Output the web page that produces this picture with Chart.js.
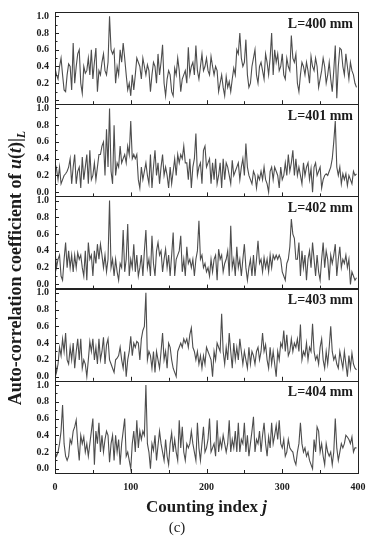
<!DOCTYPE html>
<html>
<head>
<meta charset="utf-8">
<script src="https://cdn.jsdelivr.net/npm/chart.js@4/dist/chart.umd.min.js"></script>
<style>
  html, body { margin: 0; padding: 0; background: #fff; }
  #wrap { position: relative; width: 377px; height: 550px; }
</style>
</head>
<body>
<div id="wrap"><canvas id="acfChart" width="377" height="550"></canvas></div>
<script>
// counting index step between stored values
const STEP = 2;
const panelLabels = ['L=400 mm', 'L=401 mm', 'L=402 mm', 'L=403 mm', 'L=404 mm'];
const xTicks = [0, 100, 200, 300, 400];
const yTicks = [0.0, 0.2, 0.4, 0.6, 0.8, 1.0];

// auto-correlation values, j = 0, 2, 4 ... 398
const acf400 = [
  0.38, 0.30, 0.25, 0.40, 0.50, 0.30, 0.12, 0.10, 0.30, 0.43,
  0.40, 0.12, 0.68, 0.20, 0.40, 0.55, 0.60, 0.20, 0.08, 0.40,
  0.32, 0.35, 0.50, 0.30, 0.60, 0.25, 0.45, 0.62, 0.10, 0.35,
  0.30, 0.45, 0.55, 0.35, 0.30, 0.45, 1.00, 0.60, 0.55, 0.60,
  0.20, 0.40, 0.30, 0.60, 0.45, 0.68, 0.50, 0.30, 0.12, 0.20,
  0.05, 0.30, 0.12, 0.30, 0.50, 0.45, 0.40, 0.25, 0.50, 0.40,
  0.30, 0.42, 0.35, 0.10, 0.30, 0.45, 0.40, 0.20, 0.55, 0.30,
  0.45, 0.66, 0.20, 0.05, 0.25, 0.35, 0.30, 0.10, 0.05, 0.38,
  0.30, 0.50, 0.35, 0.10, 0.25, 0.30, 0.35, 0.20, 0.63, 0.30,
  0.40, 0.45, 0.30, 0.65, 0.35, 0.25, 0.40, 0.55, 0.35, 0.40,
  0.50, 0.35, 0.30, 0.52, 0.40, 0.30, 0.40, 0.35, 0.10, 0.20,
  0.30, 0.15, 0.05, 0.28, 0.15, 0.22, 0.10, 0.25, 0.38, 0.30,
  0.60, 0.55, 0.80, 0.50, 0.40, 0.45, 0.72, 0.30, 0.15, 0.20,
  0.40, 0.50, 0.60, 0.30, 0.20, 0.40, 0.45, 0.35, 0.25, 0.55,
  0.45, 0.30, 0.50, 0.80, 0.30, 0.60, 0.45, 0.55, 0.35, 0.40,
  0.55, 0.30, 0.25, 0.50, 0.40, 0.35, 0.77, 0.50, 0.45, 0.55,
  0.20, 0.10, 0.30, 0.45, 0.40, 0.30, 0.45, 0.35, 0.20, 0.52,
  0.40, 0.35, 0.50, 0.40, 0.15, 0.25, 0.35, 0.50, 0.40, 0.20,
  0.30, 0.45, 0.25, 0.10, 0.35, 0.65, 0.02, 0.40, 0.62, 0.60,
  0.40, 0.30, 0.55, 0.40, 0.25, 0.45, 0.35, 0.30, 0.20, 0.15
];
const acf401 = [
  0.35, 0.28, 0.15, 0.30, 0.10, 0.15, 0.20, 0.22, 0.25, 0.30,
  0.40, 0.10, 0.30, 0.45, 0.10, 0.25, 0.30, 0.05, 0.42, 0.15,
  0.30, 0.45, 0.10, 0.50, 0.15, 0.20, 0.35, 0.15, 0.30, 0.45,
  0.45, 0.55, 0.60, 0.20, 0.75, 0.30, 1.00, 0.25, 0.10, 0.80,
  0.20, 0.35, 0.30, 0.55, 0.35, 0.40, 0.45, 0.35, 0.55, 0.45,
  0.85, 0.40, 0.45, 0.40, 0.45, 0.15, 0.05, 0.30, 0.15, 0.25,
  0.35, 0.20, 0.10, 0.45, 0.05, 0.30, 0.50, 0.20, 0.35, 0.10,
  0.30, 0.45, 0.20, 0.30, 0.20, 0.05, 0.30, 0.10, 0.25, 0.40,
  0.20, 0.45, 0.35, 0.45, 0.40, 0.55, 0.35, 0.35, 0.15, 0.40,
  0.05, 0.30, 0.40, 0.70, 0.20, 0.30, 0.35, 0.10, 0.50, 0.55,
  0.30, 0.35, 0.40, 0.10, 0.35, 0.15, 0.40, 0.10, 0.20, 0.35,
  0.05, 0.40, 0.15, 0.35, 0.30, 0.20, 0.10, 0.38, 0.20, 0.25,
  0.30, 0.35, 0.15, 0.30, 0.40, 0.20, 0.58, 0.30, 0.20, 0.15,
  0.10, 0.25, 0.20, 0.05, 0.20, 0.15, 0.25, 0.15, 0.30, 0.15,
  0.10, 0.00, 0.25, 0.30, 0.15, 0.30, 0.25, 0.20, 0.05, 0.30,
  0.15, 0.20, 0.35, 0.20, 0.45, 0.25, 0.35, 0.50, 0.20, 0.40,
  0.20, 0.30, 0.20, 0.10, 0.35, 0.20, 0.30, 0.35, 0.15, 0.28,
  0.00, 0.30, 0.35, 0.20, 0.25, 0.30, 0.05, 0.15, 0.20, 0.22,
  0.20, 0.25, 0.30, 0.40, 0.60, 0.85, 0.30, 0.20, 0.30, 0.10,
  0.22, 0.15, 0.22, 0.08, 0.20, 0.15, 0.10, 0.25, 0.20, 0.22
];
const acf402 = [
  0.40, 0.20, 0.30, 0.35, 0.10, 0.05, 0.30, 0.50, 0.20, 0.40,
  0.20, 0.35, 0.15, 0.35, 0.20, 0.38, 0.30, 0.35, 0.20, 0.10,
  0.40, 0.05, 0.50, 0.30, 0.35, 0.10, 0.40, 0.25, 0.48, 0.30,
  0.48, 0.35, 0.20, 0.35, 0.15, 0.30, 1.00, 0.20, 0.30, 0.10,
  0.30, 0.15, 0.05, 0.25, 0.20, 0.65, 0.15, 0.30, 0.72, 0.10,
  0.30, 0.20, 0.48, 0.15, 0.35, 0.10, 0.20, 0.35, 0.10, 0.40,
  0.65, 0.20, 0.30, 0.10, 0.58, 0.25, 0.10, 0.40, 0.50, 0.35,
  0.40, 0.15, 0.30, 0.42, 0.20, 0.35, 0.10, 0.35, 0.62, 0.10,
  0.30, 0.35, 0.40, 0.58, 0.15, 0.30, 0.10, 0.45, 0.25, 0.30,
  0.20, 0.30, 0.10, 0.30, 0.40, 0.76, 0.30, 0.35, 0.20, 0.25,
  0.15, 0.20, 0.10, 0.30, 0.15, 0.30, 0.35, 0.05, 0.42, 0.30,
  0.35, 0.15, 0.25, 0.30, 0.40, 0.10, 0.70, 0.20, 0.30, 0.10,
  0.45, 0.20, 0.30, 0.10, 0.30, 0.48, 0.20, 0.05, 0.20, 0.30,
  0.10, 0.35, 0.10, 0.30, 0.52, 0.25, 0.30, 0.15, 0.32, 0.20,
  0.30, 0.15, 0.35, 0.20, 0.35, 0.30, 0.35, 0.30, 0.35, 0.30,
  0.15, 0.10, 0.05, 0.25, 0.30, 0.45, 0.78, 0.60, 0.55, 0.30,
  0.30, 0.50, 0.10, 0.40, 0.20, 0.35, 0.05, 0.30, 0.40, 0.20,
  0.50, 0.30, 0.10, 0.35, 0.15, 0.05, 0.30, 0.50, 0.20, 0.40,
  0.30, 0.05, 0.35, 0.25, 0.35, 0.48, 0.10, 0.30, 0.45, 0.20,
  0.30, 0.25, 0.35, 0.20, 0.30, 0.00, 0.15, 0.10, 0.05, 0.08
];
const acf403 = [
  0.20, 0.05, 0.15, 0.35, 0.25, 0.45, 0.30, 0.52, 0.20, 0.15,
  0.35, 0.20, 0.40, 0.10, 0.30, 0.45, 0.20, 0.45, 0.10, 0.20,
  0.15, 0.00, 0.20, 0.42, 0.30, 0.45, 0.20, 0.35, 0.15, 0.45,
  0.20, 0.30, 0.47, 0.15, 0.38, 0.45, 0.20, 0.15, 0.10, 0.05,
  0.20, 0.22, 0.25, 0.35, 0.20, 0.10, 0.30, 0.00, 0.20, 0.30,
  0.48, 0.25, 0.40, 0.35, 0.42, 0.40, 0.20, 0.45, 0.55, 0.60,
  1.00, 0.20, 0.30, 0.25, 0.10, 0.30, 0.05, 0.30, 0.20, 0.10,
  0.30, 0.52, 0.20, 0.30, 0.10, 0.40, 0.35, 0.20, 0.10, 0.05,
  0.00, 0.30, 0.35, 0.40, 0.35, 0.45, 0.40, 0.45, 0.35, 0.50,
  0.58, 0.35, 0.30, 0.20, 0.30, 0.15, 0.25, 0.10, 0.25, 0.15,
  0.35, 0.30, 0.25, 0.20, 0.00, 0.30, 0.20, 0.40, 0.35, 0.30,
  0.75, 0.30, 0.15, 0.35, 0.20, 0.52, 0.30, 0.10, 0.40, 0.20,
  0.35, 0.20, 0.45, 0.30, 0.15, 0.30, 0.20, 0.10, 0.35, 0.15,
  0.30, 0.25, 0.15, 0.30, 0.35, 0.20, 0.30, 0.52, 0.30, 0.38,
  0.20, 0.10, 0.35, 0.15, 0.30, 0.15, 0.00, 0.30, 0.20, 0.40,
  0.35, 0.55, 0.30, 0.50, 0.25, 0.30, 0.45, 0.30, 0.40, 0.35,
  0.45, 0.30, 0.62, 0.20, 0.30, 0.25, 0.40, 0.20, 0.35, 0.30,
  0.63, 0.30, 0.20, 0.25, 0.15, 0.35, 0.45, 0.20, 0.10, 0.30,
  0.15, 0.35, 0.60, 0.30, 0.20, 0.25, 0.15, 0.10, 0.30, 0.20,
  0.10, 0.30, 0.15, 0.00, 0.25, 0.10, 0.28, 0.15, 0.10, 0.08
];
const acf404 = [
  0.20, 0.15, 0.20, 0.30, 0.45, 0.76, 0.30, 0.15, 0.10, 0.15,
  0.35, 0.30, 0.45, 0.50, 0.58, 0.30, 0.10, 0.40, 0.30, 0.38,
  0.20, 0.30, 0.15, 0.30, 0.45, 0.60, 0.05, 0.45, 0.30, 0.55,
  0.20, 0.40, 0.20, 0.35, 0.45, 0.40, 0.08, 0.30, 0.40, 0.10,
  0.40, 0.20, 0.35, 0.05, 0.30, 0.45, 0.60, 0.15, 0.20, 0.10,
  0.00, 0.30, 0.45, 0.20, 0.58, 0.25, 0.45, 0.35, 0.45, 0.40,
  1.00, 0.30, 0.20, 0.00, 0.30, 0.22, 0.40, 0.10, 0.28, 0.45,
  0.30, 0.20, 0.10, 0.35, 0.15, 0.05, 0.30, 0.43, 0.20, 0.35,
  0.20, 0.10, 0.58, 0.25, 0.50, 0.20, 0.10, 0.30, 0.25, 0.30,
  0.45, 0.30, 0.20, 0.10, 0.55, 0.25, 0.10, 0.30, 0.50, 0.20,
  0.25, 0.35, 0.60, 0.20, 0.25, 0.30, 0.15, 0.58, 0.20, 0.35,
  0.25, 0.40, 0.30, 0.20, 0.30, 0.58, 0.20, 0.35, 0.25, 0.45,
  0.20, 0.55, 0.20, 0.35, 0.30, 0.55, 0.20, 0.40, 0.15, 0.30,
  0.45, 0.62, 0.20, 0.35, 0.30, 0.45, 0.20, 0.40, 0.55, 0.30,
  0.15, 0.38, 0.25, 0.55, 0.30, 0.40, 0.52, 0.35, 0.58, 0.30,
  0.25, 0.35, 0.15, 0.20, 0.35, 0.25, 0.22, 0.20, 0.10, 0.05,
  0.20, 0.30, 0.55, 0.30, 0.20, 0.25, 0.15, 0.20, 0.10, 0.05,
  0.00, 0.35, 0.20, 0.50, 0.45, 0.20, 0.30, 0.15, 0.05, 0.30,
  0.20, 0.15, 0.20, 0.05, 0.20, 0.60, 0.25, 0.10, 0.20, 0.30,
  0.25, 0.30, 0.40, 0.38, 0.35, 0.30, 0.38, 0.20, 0.25, 0.25
];

const SERIF = '"Liberation Serif", "Times New Roman", serif';
const INK = '#1c1c1c';
const series = [acf400, acf401, acf402, acf403, acf404];
const axisIds = ['y400', 'y401', 'y402', 'y403', 'y404'];

const datasets = series.map((vals, k) => ({
  label: panelLabels[k],
  data: vals.map((v, i) => ({ x: i * STEP, y: v })),
  yAxisID: axisIds[k],
  borderColor: '#4d4d4d',
  borderWidth: 1.1,
  pointRadius: 0,
  tension: 0,
  fill: false
}));

const tickFont = { family: SERIF, size: 10, weight: 'bold' };
const scales = {
  x: {
    type: 'linear',
    position: 'bottom',
    min: 0,
    max: 400,
    afterBuildTicks: s => { s.ticks = xTicks.map(v => ({ value: v })); },
    afterFit: s => { s.height = 25; },
    grid: { display: false, drawTicks: false },
    border: { display: false },
    ticks: { padding: 8, font: tickFont, color: INK, maxRotation: 0 }
  }
};
axisIds.forEach((id, k) => {
  scales[id] = {
    type: 'linear',
    position: 'left',
    stack: 'panels',
    stackWeight: 1,
    weight: 5 - k, // top panel first
    min: -0.05,
    max: 1.05,
    afterBuildTicks: s => { s.ticks = yTicks.map(v => ({ value: v })); },
    afterFit: s => { s.width = 55; },
    grid: { display: false, drawTicks: false },
    border: { display: false },
    ticks: { autoSkip: false, padding: 6, font: tickFont, color: INK, callback: v => Number(v).toFixed(1) }
  };
});

// frames, inward ticks, panel labels and titles
const panelFrame = {
  id: 'panelFrame',
  afterDraw(chart) {
    const { ctx, chartArea } = chart;
    const xs = chart.scales.x;
    ctx.save();
    ctx.strokeStyle = '#222';
    ctx.lineWidth = 1;
    axisIds.forEach((id, k) => {
      const ys = chart.scales[id];
      ctx.strokeRect(Math.round(chartArea.left) + 0.5, Math.round(ys.top) + 0.5,
        Math.round(chartArea.width), Math.round(ys.bottom - ys.top));
      ctx.beginPath();
      for (let t = 0; t <= 10; t++) {
        const py = Math.round(ys.getPixelForValue(t / 10)) + 0.5;
        const len = t % 2 === 0 ? 4 : 2.5;
        ctx.moveTo(chartArea.left, py);
        ctx.lineTo(chartArea.left + len, py);
      }
      for (let v = 50; v < 400; v += 50) {
        const px = Math.round(xs.getPixelForValue(v)) + 0.5;
        const len = v % 100 === 0 ? 4 : 3;
        ctx.moveTo(px, ys.bottom);
        ctx.lineTo(px, ys.bottom - len);
      }
      ctx.stroke();
      ctx.fillStyle = INK;
      ctx.font = 'bold 14px ' + SERIF;
      ctx.textAlign = 'right';
      ctx.textBaseline = 'middle';
      ctx.fillText(panelLabels[k], chartArea.right - 5, ys.top + 12);
    });

    // x title
    ctx.textAlign = 'left';
    ctx.textBaseline = 'middle';
    const xa = 'Counting index ';
    ctx.font = 'bold 17px ' + SERIF;
    const wa = ctx.measureText(xa).width;
    ctx.font = 'italic bold 17px ' + SERIF;
    const wj = ctx.measureText('j').width;
    const x0 = (chartArea.left + chartArea.right) / 2 - (wa + wj) / 2;
    ctx.font = 'bold 17px ' + SERIF;
    ctx.fillText(xa, x0, 508);
    ctx.font = 'italic bold 17px ' + SERIF;
    ctx.fillText('j', x0 + wa, 508);

    // y title, rotated
    const parts = [
      ['Auto-correlation coefficient of ', 'bold 18px ', 0],
      ['u', 'italic bold 18px ', 0],
      ['(', 'bold 18px ', 0],
      ['t', 'italic bold 18px ', 0],
      [')|', 'bold 18px ', 0],
      ['L', 'italic bold 12px ', 6]
    ];
    let total = 0;
    parts.forEach(p => { ctx.font = p[1] + SERIF; total += ctx.measureText(p[0]).width; });
    ctx.translate(16, 268);
    ctx.rotate(-Math.PI / 2);
    let cx = -total / 2;
    parts.forEach(p => {
      ctx.font = p[1] + SERIF;
      ctx.fillText(p[0], cx, p[2]);
      cx += ctx.measureText(p[0]).width;
    });
    ctx.setTransform(1, 0, 0, 1, 0, 0);

    ctx.font = '15px ' + SERIF;
    ctx.textAlign = 'center';
    ctx.fillText('(c)', 177, 528);
    ctx.restore();
  }
};

new Chart(document.getElementById('acfChart'), {
  type: 'line',
  data: { datasets },
  options: {
    responsive: false,
    animation: false,
    devicePixelRatio: 1,
    layout: { padding: { left: 0, right: 19, top: 12, bottom: 52 } },
    scales,
    plugins: { legend: { display: false }, tooltip: { enabled: false } }
  },
  plugins: [panelFrame]
});
</script>
</body>
</html>
